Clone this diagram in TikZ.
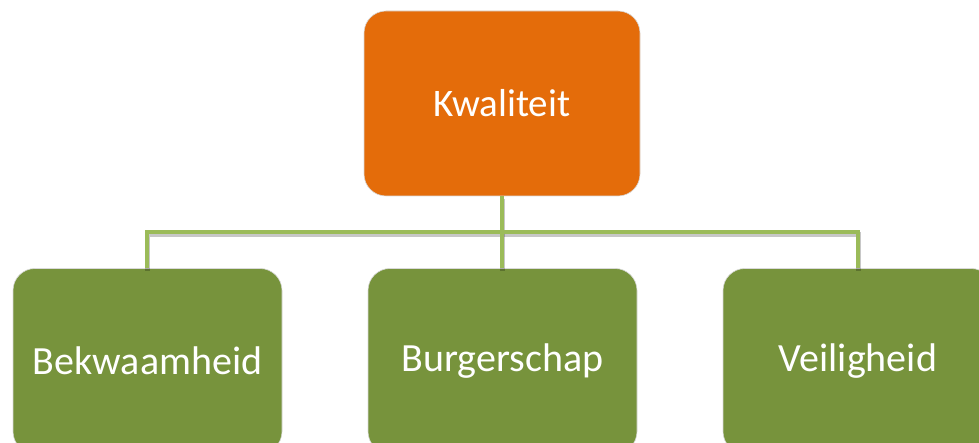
\documentclass[tikz,border=0pt]{standalone}
\usepackage{fontspec}
\setmainfont{Carlito}
\definecolor{topor}{HTML}{E46C0A}
\definecolor{boxgr}{HTML}{77933C}
\definecolor{lngr}{HTML}{9BBB59}
\begin{document}
\begin{tikzpicture}[x=1pt,y=-1pt,
  box/.style={draw=white!85!black, line width=0.6pt, rounded corners=22pt, minimum width=#1, minimum height=185pt, inner sep=0pt, text=white, font=\fontsize{39}{46}\selectfont},
  lowbox/.style={box=#1, font=\fontsize{40}{47}\selectfont},
  link/.style={draw=lngr, line width=4pt, line join=miter},
  shade/.style={draw=black, opacity=0.22, line width=5pt, line join=miter}]
\useasboundingbox (0,0) rectangle (979,443);
\clip (0,0) rectangle (979,443);
\node[box=276pt, fill=topor] (top) at (502,103.5) {Kwaliteit};
\node[lowbox=269pt, fill=boxgr] (l) at (147.5,361) {Bekwaamheid};
\node[lowbox=269pt, fill=boxgr] (m) at (502.5,361) {Burgerschap};
\node[lowbox=270pt, fill=boxgr] (r) at (858,361) {Veiligheid};
\coordinate (jn) at (502,232);
\coordinate (jl) at (147,232);
\coordinate (jr) at (858,232);
\begin{scope}[transform canvas={yshift=-2.5pt}]
\draw[shade] (jl |- l.north) -- (jl) -- (jr) -- (jr |- r.north);
\draw[shade] (top.south) -- (jn |- m.north);
\end{scope}
\draw[link] (jl |- l.north) -- (jl) -- (jr) -- (jr |- r.north);
\draw[link] (top.south) -- (jn |- m.north);
\end{tikzpicture}
\end{document}
